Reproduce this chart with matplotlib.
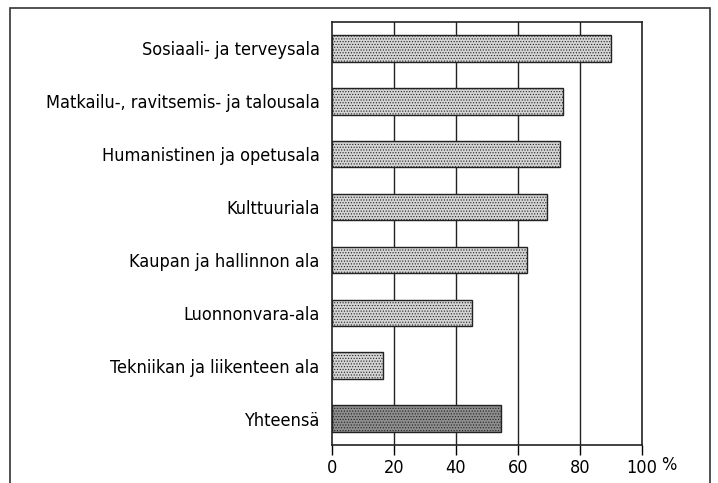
import matplotlib.pyplot as plt
from matplotlib.patches import Rectangle

plt.rcParams['font.family'] = ['DejaVu Sans']
plt.rcParams['font.stretch'] = 'condensed'
plt.rcParams['hatch.color'] = '#a8a8a8'
plt.rcParams['hatch.linewidth'] = 0.5

categories = ['Sosiaali- ja terveysala', 'Matkailu-, ravitsemis- ja talousala',
              'Humanistinen ja opetusala', 'Kulttuuriala', 'Kaupan ja hallinnon ala',
              'Luonnonvara-ala', 'Tekniikan ja liikenteen ala', 'Yhteensä']
values = [90, 74.5, 73.5, 69.5, 63, 45, 16.5, 54.5]
xticks = [0, 20, 40, 60, 80, 100]

fig = plt.figure(figsize=(7.18, 4.83), dpi=100)
# outer frame
fig.patches.append(Rectangle((10 / 718, -0.1), 700 / 718, 1.1 - 8 / 483,
                             transform=fig.transFigure, fill=False,
                             edgecolor='#333333', linewidth=1.2))

ax = fig.add_axes([332 / 718, 1 - 445 / 483, 310 / 718, 423 / 483])
y = list(range(len(categories)))
colors = ['#d4d4d4'] * (len(categories) - 1) + ['#8e8e8e']
ax.barh(y, values, height=0.5, color=colors, edgecolor='#222222',
        linewidth=1.0, zorder=3, hatch='......')

ax.set_xlim(0, 100)
ax.set_ylim(len(categories) - 0.5, -0.5)
ax.set_xticks(xticks)
ax.set_xticklabels([str(t) for t in xticks], fontsize=13)
ax.set_yticks(y)
ax.set_yticklabels(categories, fontsize=13)
ax.tick_params(axis='y', length=0, pad=9)
ax.tick_params(axis='x', direction='out', length=7, width=1, pad=3)
for g in xticks[1:-1]:
    ax.axvline(g, color='#222222', linewidth=1.0, zorder=1)
for s in ax.spines.values():
    s.set_color('#222222')
    s.set_linewidth(1.2)
ax.text(1.085, -0.0265, '%', transform=ax.transAxes, fontsize=13,
        ha='center', va='top')

fig.savefig('out.png', dpi=100)
